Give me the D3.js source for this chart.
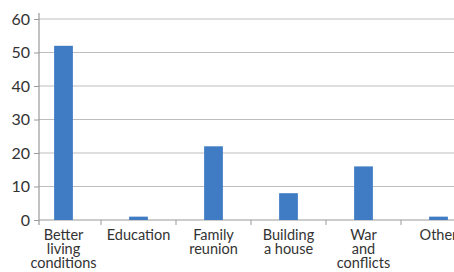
<!DOCTYPE html>
<html>
<head>
<meta charset="utf-8">
<script src="https://cdn.jsdelivr.net/npm/d3@7"></script>
<style>
  body { margin: 0; background: #fff; }
  text { font-family: "Lato", "Open Sans", sans-serif; fill: #333; }
</style>
</head>
<body>
<script>
// chart data
let categories = [
    ["Better", "living", "conditions"],
    ["Education"],
    ["Family", "reunion"],
    ["Building", "a house"],
    ["War", "and", "conflicts"],
    ["Other"]
];
let values = [52, 1, 22, 8, 16, 1];
let yTicks = [0, 10, 20, 30, 40, 50, 60];

let outerWidth = 454;
let outerHeight = 272;
let axisX = 39;
let barColor = "#3f7cc4";

let svg = d3.select("body")
    .append("svg")
    .attr("width", outerWidth)
    .attr("height", outerHeight);

let keys = categories.map(function(c) { return c.join(" "); });

let xScale = d3.scaleBand()
    .domain(keys)
    .range([26, 476]);

let yScale = d3.scaleLinear()
    .domain([0, 60])
    .range([220, 19]);

// gridlines
svg.append("g")
    .selectAll("line")
    .data(yTicks.slice(1))
    .enter()
    .append("line")
    .attr("x1", axisX)
    .attr("x2", outerWidth)
    .attr("y1", function(d) { return yScale(d); })
    .attr("y2", function(d) { return yScale(d); })
    .attr("stroke", "#bdbdbd")
    .attr("stroke-width", 1.2);

// y axis
let yAxis = d3.axisLeft(yScale)
    .tickValues(yTicks)
    .tickSize(5)
    .tickPadding(4);

let yG = svg.append("g")
    .attr("transform", "translate(" + axisX + ",0)")
    .call(yAxis);
yG.select(".domain").remove();
yG.selectAll(".tick line").attr("stroke", "#999");
yG.selectAll(".tick text")
    .attr("font-size", 16)
    .attr("font-family", "Lato, 'Open Sans', sans-serif")
    .attr("fill", "#333");

svg.append("line")
    .attr("x1", axisX).attr("x2", axisX)
    .attr("y1", 13).attr("y2", 225)
    .attr("stroke", "#999")
    .attr("stroke-width", 1.2);

// x axis baseline and ticks
svg.append("line")
    .attr("x1", axisX).attr("x2", outerWidth)
    .attr("y1", yScale(0)).attr("y2", yScale(0))
    .attr("stroke", "#999")
    .attr("stroke-width", 1.2);

svg.append("g")
    .selectAll("line")
    .data(keys.slice(0, -1))
    .enter()
    .append("line")
    .attr("x1", function(d) { return xScale(d) + xScale.bandwidth(); })
    .attr("x2", function(d) { return xScale(d) + xScale.bandwidth(); })
    .attr("y1", yScale(0))
    .attr("y2", yScale(0) + 5)
    .attr("stroke", "#999");

// bars
let barWidth = xScale.bandwidth() * 0.25;
svg.append("g")
    .selectAll("rect")
    .data(values)
    .enter()
    .append("rect")
    .attr("x", function(d, i) { return xScale(keys[i]) + (xScale.bandwidth() - barWidth) / 2; })
    .attr("y", function(d) { return yScale(d); })
    .attr("width", barWidth)
    .attr("height", function(d) { return yScale(0) - yScale(d); })
    .attr("fill", barColor);

// category labels
let labels = svg.append("g")
    .selectAll("text")
    .data(categories)
    .enter()
    .append("text")
    .attr("x", function(d, i) { return xScale(keys[i]) + xScale.bandwidth() / 2; })
    .attr("y", 240)
    .attr("text-anchor", "middle")
    .attr("font-size", 14.5);

labels.selectAll("tspan")
    .data(function(d) { return d; })
    .enter()
    .append("tspan")
    .attr("x", function() { return d3.select(this.parentNode).attr("x"); })
    .attr("dy", function(d, i) { return i === 0 ? 0 : 14; })
    .text(function(d) { return d; });
</script>
</body>
</html>
